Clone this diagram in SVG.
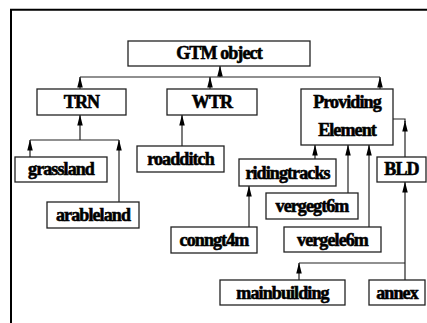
<svg xmlns="http://www.w3.org/2000/svg" width="427" height="323" viewBox="0 0 427 323">
<defs>
<style>
.box{fill:#fff;stroke:#222;stroke-width:1.3}
.lbl{font-family:"Liberation Serif","Times New Roman",serif;font-weight:bold;font-size:18px;letter-spacing:-0.9px;text-anchor:middle;fill:#000;stroke:#000;stroke-width:0.6}
.c{fill:none;stroke:#222;stroke-width:1.2}
.a{fill:none;stroke:#222;stroke-width:1.2;marker-end:url(#ah)}
.frame{fill:none;stroke:#000;stroke-width:2}
</style>
<marker id="ah" markerUnits="userSpaceOnUse" markerWidth="11" markerHeight="6" refX="10.5" refY="2.75" orient="auto">
<path d="M0,0 L11,2.75 L0,5.5 z" fill="#000"/>
</marker>
</defs>
<rect width="427" height="323" fill="#fff"/>
<path class="frame" d="M11,323 V9.7 H427"/>
<g id="connectors">
<path class="c" d="M80,77 H380"/>
<path class="a" d="M220,77 V66"/>
<path class="a" d="M80,89 V77"/>
<path class="a" d="M210,89 V77"/>
<path class="a" d="M380,89 V77"/>
<path class="a" d="M80,140 V115"/>
<path class="c" d="M30,140 H119"/>
<path class="a" d="M30,157 V140"/>
<path class="a" d="M119,202 V140"/>
<path class="a" d="M182,146 V115"/>
<path class="a" d="M315,159 V145"/>
<path class="a" d="M249,227 V186"/>
<path class="a" d="M348,193 V145"/>
<path class="a" d="M369,227 V145"/>
<path class="c" d="M393,119 H405 V122"/>
<path class="a" d="M405,157 V121"/>
<path class="a" d="M405,280 V182"/>
<path class="c" d="M299,263 H405"/>
<path class="a" d="M299,280 V263"/>
</g>
<g id="gtm"><rect class="box" x="128" y="41" width="182" height="25"/><text class="lbl" x="219" y="59">GTM object</text></g>
<g id="trn"><rect class="box" x="37" y="89" width="89" height="26"/><text class="lbl" x="81.5" y="108">TRN</text></g>
<g id="wtr"><rect class="box" x="167" y="89" width="90" height="26"/><text class="lbl" x="212" y="108">WTR</text></g>
<g id="providing"><rect class="box" x="301" y="89" width="92" height="56"/><text class="lbl" x="347" y="108">Providing</text><text class="lbl" x="347" y="136">Element</text></g>
<g id="grassland"><rect class="box" x="15" y="157" width="92" height="25"/><text class="lbl" x="61" y="175">grassland</text></g>
<g id="arableland"><rect class="box" x="47" y="202" width="92" height="26"/><text class="lbl" x="93" y="221">arableland</text></g>
<g id="roadditch"><rect class="box" x="137" y="146" width="87" height="26"/><text class="lbl" x="180.5" y="165">roadditch</text></g>
<g id="ridingtracks"><rect class="box" x="239" y="159" width="97" height="27"/><text class="lbl" x="287.5" y="178.5">ridingtracks</text></g>
<g id="vergegt6m"><rect class="box" x="266" y="193" width="92" height="26"/><text class="lbl" x="312" y="212">vergegt6m</text></g>
<g id="vergele6m"><rect class="box" x="284" y="227" width="97" height="25"/><text class="lbl" x="332.5" y="245.5">vergele6m</text></g>
<g id="bld"><rect class="box" x="377" y="157" width="49" height="25"/><text class="lbl" x="401.5" y="175">BLD</text></g>
<g id="conngt4m"><rect class="box" x="171" y="227" width="86" height="26"/><text class="lbl" x="214" y="246">conngt4m</text></g>
<g id="mainbuilding"><rect class="box" x="220" y="280" width="125" height="25"/><text class="lbl" x="282.5" y="298.5">mainbuilding</text></g>
<g id="annex"><rect class="box" x="369" y="280" width="56" height="25"/><text class="lbl" x="397" y="298.5">annex</text></g>
</svg>
